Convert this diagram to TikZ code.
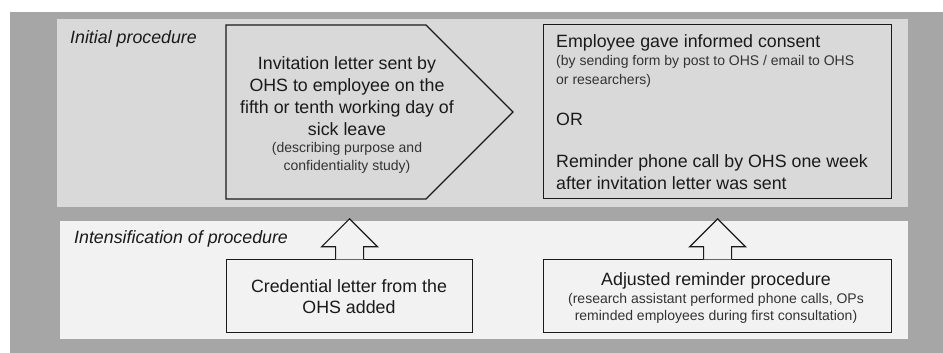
\documentclass[tikz,border=0pt]{standalone}
\usepackage{fontspec}
\setmainfont{Liberation Sans}
\definecolor{outergray}{HTML}{A6A6A6}
\definecolor{topfill}{HTML}{D9D9D9}
\definecolor{botfill}{HTML}{F2F2F2}
\definecolor{inkmain}{HTML}{1A1A1A}
\definecolor{inksmall}{HTML}{333333}
\tikzset{
  shapeline/.style={draw=inkmain, line width=1.2pt, line join=miter},
  boxed/.style={shapeline, rectangle, inner sep=0pt, anchor=south west},
  big/.style={font=\fontsize{17.8}{21}\selectfont, text=inkmain, inner sep=0pt},
  small/.style={font=\fontsize{14}{18}\selectfont, text=inksmall, inner sep=0pt},
  sectionlabel/.style={font=\fontsize{17.8}{21}\selectfont\itshape, text=inkmain, inner sep=0pt, anchor=base west}
}
\begin{document}
\begin{tikzpicture}[x=1pt,y=1pt]
\useasboundingbox (0,0) rectangle (943,353);
% panels
\fill[outergray] (10,0) rectangle (943,341);
\fill[topfill] (57,146) rectangle (908,334);
\fill[botfill] (60,14) rectangle (908,132);
% section labels
\node[sectionlabel] (initlab) at (70,309) {Initial procedure};
\node[sectionlabel] (intlab) at (74,109) {Intensification of procedure};
% pentagon arrow
\coordinate (p1) at (226,328);
\coordinate (p2) at (426,328);
\coordinate (p3) at (513,241);
\coordinate (p4) at (426,154);
\coordinate (p5) at (226,154);
\draw[shapeline, fill=topfill] (p1) -- (p2) -- (p3) -- (p4) -- (p5) -- cycle;
\node[big, anchor=base] (inv1) at (347,283) {Invitation letter sent by};
\node[big, anchor=base] (inv2) at (347,261) {OHS to employee on the};
\node[big, anchor=base] (inv3) at (347,239.3) {fifth or tenth working day of};
\node[big, anchor=base] (inv4) at (347,217.7) {sick leave};
\node[small, anchor=base] (inv5) at (347,200.2) {(describing purpose and};
\node[small, anchor=base] (inv6) at (347,182) {confidentiality study)};
% consent box
\node[boxed, fill=topfill, minimum width=348pt, minimum height=174pt] (consent) at (543,154) {};
\node[big, anchor=base west] (con1) at (556,305) {Employee gave informed consent};
\node[small, anchor=base west] (con2) at (556,287) {(by sending form by post to OHS / email to OHS};
\node[small, anchor=base west] (con3) at (556,268) {or researchers)};
\node[big, anchor=base west] (con4) at (556,227) {OR};
\node[big, anchor=base west] (con5) at (556,185) {Reminder phone call by OHS one week};
\node[big, anchor=base west] (con6) at (556,163) {after invitation letter was sent};
% bottom boxes
\node[boxed, fill=botfill, minimum width=246pt, minimum height=73pt] (box1) at (226,20) {};
\node[big, anchor=base] (b1a) at (349,60.3) {Credential letter from the};
\node[big, anchor=base] (b1b) at (349,39.7) {OHS added};
\node[boxed, fill=botfill, minimum width=348pt, minimum height=73pt] (box2) at (543,20) {};
\node[big, anchor=base] (b2a) at (716,67.7) {Adjusted reminder procedure};
\node[small, anchor=base] (b2b) at (716,49.5) {(research assistant performed phone calls, OPs};
\node[small, anchor=base] (b2c) at (716,32) {reminded employees during first consultation)};
% up arrows
\foreach \b in {box1,box2}{
  \fill[botfill] ([xshift=14pt,yshift=-0.7pt]\b.north) -- ++(0,12.7) -- ++(14,0) -- ++(-28,28) -- ++(-28,-28) -- ++(14,0) -- ++(0,-12.7) -- cycle;
  \draw[shapeline] ([xshift=14pt]\b.north) -- ++(0,12) -- ++(14,0) -- ++(-28,28) -- ++(-28,-28) -- ++(14,0) -- ++(0,-12);
}
\end{tikzpicture}
\end{document}
